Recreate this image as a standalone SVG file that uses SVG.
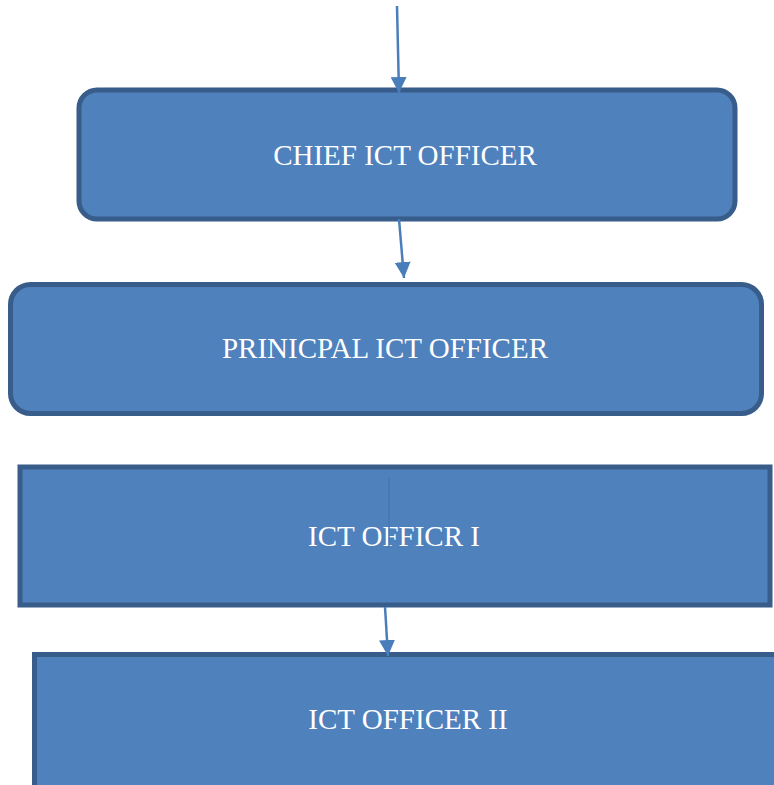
<svg xmlns="http://www.w3.org/2000/svg" width="774" height="785" viewBox="0 0 774 785">
  <style>
    .box { fill: #4f81bd; stroke: #385d8a; stroke-width: 5; }
    .label { font-family: "Liberation Serif", "Times New Roman", serif; font-size: 29px; fill: #ffffff; text-anchor: middle; }
    .link { stroke: #4a7ebb; stroke-width: 2.5; fill: none; }
  </style>
  <defs>
    <marker id="arrow" markerUnits="userSpaceOnUse" markerWidth="16" markerHeight="16" viewBox="0 0 16 16" refX="16" refY="8" orient="auto">
      <path d="M0,0 L16,8 L0,16 Z" fill="#4a7ebb"/>
    </marker>
  </defs>

  <rect width="774" height="785" fill="#ffffff"/>

  <g id="chief-ict-officer">
    <rect class="box" x="79" y="90" width="656" height="129" rx="18" ry="18"/>
    <text class="label" x="405" y="165">CHIEF ICT OFFICER</text>
  </g>

  <g id="principal-ict-officer">
    <rect class="box" x="10.5" y="284.5" width="751" height="129" rx="20" ry="20"/>
    <text class="label" x="385" y="358">PRINICPAL ICT OFFICER</text>
  </g>

  <g id="ict-officer-1">
    <rect class="box" x="20" y="467" width="750" height="138"/>
    <text class="label" x="394" y="546">ICT OFFICR I</text>
  </g>

  <g id="ict-officer-2">
    <rect class="box" x="34.5" y="654.5" width="750" height="140"/>
    <text class="label" x="408" y="729">ICT OFFICER II</text>
  </g>

  <g id="connectors">
    <line class="link" x1="397" y1="6" x2="399" y2="93" marker-end="url(#arrow)"/>
    <line class="link" x1="399" y1="219" x2="404" y2="278" marker-end="url(#arrow)"/>
    <line class="link" x1="385" y1="607" x2="388" y2="656" marker-end="url(#arrow)"/>
    <line x1="389" y1="478" x2="389" y2="548" stroke="#4677b3" stroke-width="1.5"/>
  </g>
</svg>
